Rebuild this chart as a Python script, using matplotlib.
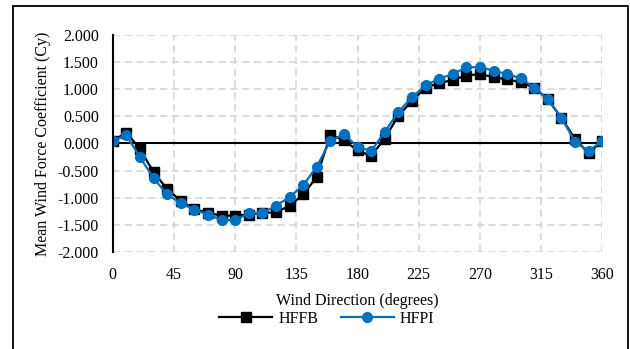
import matplotlib
matplotlib.use("Agg")
import matplotlib.pyplot as plt
from matplotlib.patches import Rectangle
from matplotlib.ticker import FormatStrFormatter

plt.rcParams['font.family'] = ['Liberation Serif', 'DejaVu Serif']

# wind direction, degrees
direction = list(range(0, 361, 10))

hffb = [0.05, 0.20, -0.10, -0.53, -0.84, -1.06, -1.21, -1.28, -1.33, -1.33,
        -1.31, -1.28, -1.27, -1.15, -0.94, -0.62, 0.16, 0.06, -0.13, -0.23,
        0.09, 0.51, 0.78, 1.03, 1.11, 1.17, 1.25, 1.28, 1.22, 1.18,
        1.13, 1.03, 0.81, 0.47, 0.08, -0.18, 0.05]
hfpi = [0.05, 0.15, -0.25, -0.64, -0.94, -1.10, -1.22, -1.31, -1.41, -1.41,
        -1.29, -1.28, -1.15, -0.99, -0.77, -0.43, 0.05, 0.17, -0.06, -0.14,
        0.21, 0.58, 0.85, 1.07, 1.19, 1.28, 1.40, 1.41, 1.34, 1.28,
        1.20, 1.03, 0.81, 0.47, 0.03, -0.14, 0.05]

xticks = [0, 45, 90, 135, 180, 225, 270, 315, 360]
yticks = [-2.0, -1.5, -1.0, -0.5, 0.0, 0.5, 1.0, 1.5, 2.0]

fig = plt.figure(figsize=(6.3, 3.49), dpi=100)
ax = fig.add_axes([0.179, 0.278, 0.777, 0.622])

# outer frame
fig.patches.append(Rectangle((13/630, -0.05), 615/630, 1 - 6/349 + 0.05,
                             transform=fig.transFigure, fill=False,
                             edgecolor='black', linewidth=1.3))

ax.plot(direction, hffb, color='black', marker='s', markersize=6.5,
        linewidth=1.6, label='HFFB', zorder=3)
ax.plot(direction, hfpi, color='#0070C0', marker='o', markersize=7,
        linewidth=1.6, label='HFPI', zorder=4)

ax.axhline(0, color='black', linewidth=1.5, zorder=2)

ax.set_xlim(0, 360)
ax.set_ylim(-2, 2)
ax.set_xticks(xticks)
ax.set_yticks(yticks)
ax.yaxis.set_major_formatter(FormatStrFormatter('%.3f'))
ax.grid(True, color='#d9d9d9', linestyle=(0, (4, 2.5)), linewidth=1.3)
ax.set_axisbelow(True)

for s in ['top', 'right', 'bottom']:
    ax.spines[s].set_visible(False)
ax.spines['left'].set_linewidth(1.5)
ax.spines['left'].set_zorder(5)

ax.tick_params(axis='both', length=0, labelsize=11.5)
ax.tick_params(axis='y', pad=10)
ax.tick_params(axis='x', pad=11)

ax.set_xlabel('Wind Direction (degrees)', fontsize=11.5, labelpad=7)
ax.set_ylabel('Mean Wind Force Coefficient (Cy)', fontsize=11.5, labelpad=5)

fig.legend(loc='center', bbox_to_anchor=(327/630, 1 - 319/349), ncol=2,
           frameon=False, fontsize=11.5, handlelength=3.3, columnspacing=1.4,
           handletextpad=0.4)

fig.savefig('out.png', dpi=100)
